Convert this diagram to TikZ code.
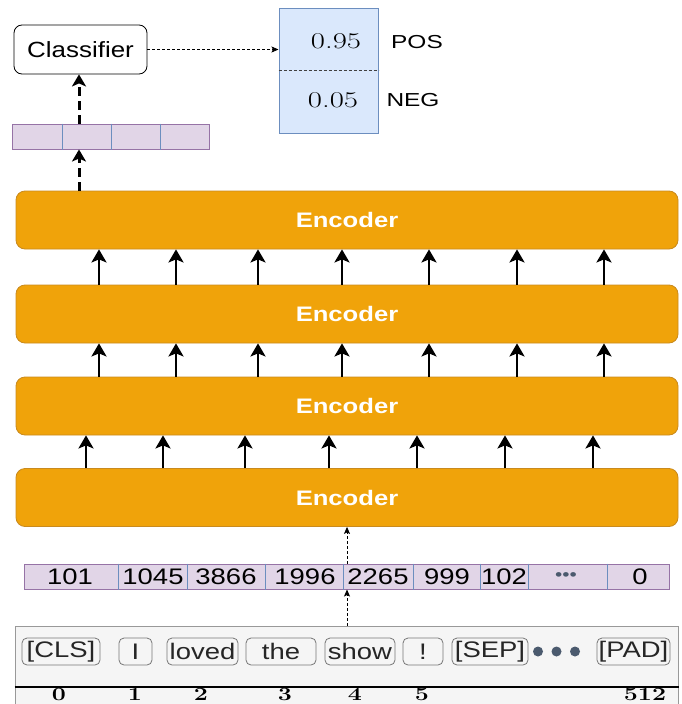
\documentclass[tikz,border=0pt]{standalone}
\usepackage{fontspec}
\usepackage{graphicx}
\usetikzlibrary{arrows.meta}
\newfontfamily\sans{Liberation Sans}
\definecolor{encfill}{HTML}{F0A30A}
\definecolor{encline}{HTML}{C98A1E}
\definecolor{vecfill}{HTML}{E1D5E7}
\definecolor{vecline}{HTML}{9673A6}
\definecolor{cellline}{HTML}{6C8EBF}
\definecolor{probfill}{HTML}{DAE8FC}
\definecolor{probline}{HTML}{6C8EBF}
\definecolor{tokfill}{HTML}{F5F5F5}
\definecolor{tokline}{HTML}{777777}
\definecolor{boxline}{HTML}{999999}
\definecolor{dotcol}{HTML}{4B5A6E}
% horizontally widened text: \hs[factor]{text}
\newcommand\hs[2][1.22]{\scalebox{#1}[1]{#2}}
\newcommand\fsz[1]{\fontsize{#1}{#1}\selectfont}
\tikzset{
  enc/.style={rectangle, rounded corners=9pt, draw=encline, fill=encfill, line width=0.8pt,
    minimum width=662pt, minimum height=58pt, inner sep=0pt, text=white, font=\sans\fsz{21}\bfseries},
  vec/.style={rectangle, draw=vecline, fill=vecfill, line width=1pt, inner sep=0pt},
  cell/.style={draw=cellline, line width=1pt},
  vnum/.style={inner sep=0pt, font=\sans\fsz{22.5}},
  prob/.style={rectangle, draw=probline, fill=probfill, line width=1pt, inner sep=0pt,
    minimum width=99pt, minimum height=125pt},
  probnum/.style={inner sep=0pt, font=\rmfamily\fsz{22.5}},
  label/.style={inner sep=0pt, font=\sans\fsz{18.8}},
  clsbox/.style={rectangle, rounded corners=8pt, draw=black, fill=white, line width=0.8pt,
    minimum width=133pt, minimum height=49pt, inner sep=0pt, font=\sans\fsz{22}},
  tokrow/.style={rectangle, draw=boxline, fill=tokfill, line width=1pt, inner sep=0pt,
    minimum width=663pt, minimum height=96pt},
  tok/.style={rectangle, rounded corners=5pt, draw=tokline, fill=tokfill, line width=0.8pt,
    minimum height=27pt, inner sep=0pt, text=black!85, font=\sans\fsz{22.5}},
  idx/.style={inner sep=0pt, anchor=north, font=\rmfamily\bfseries\fsz{18.5}},
  uparrow/.style={line width=2.7pt, -{Stealth[length=13pt,width=15pt,inset=3pt]}},
  thickdash/.style={line width=3pt, dash pattern=on 9pt off 5pt, -{Stealth[length=12pt,width=14pt,inset=3pt]}},
  thindash/.style={line width=0.8pt, dash pattern=on 3pt off 2pt, -{Stealth[length=7pt,width=6pt,inset=1.5pt]}},
}
\begin{document}
\begin{tikzpicture}[x=1pt,y=-1pt]
\useasboundingbox (0,0) rectangle (681,704);

% classifier and output probabilities
\node[clsbox] (cls) at (80.5,49.5) {\hs[1.18]{Classifier}};
\node[prob] (pb) at (328.5,70.5) {};
\draw[dash pattern=on 3pt off 2pt, line width=0.8pt, black!75] (pb.west |- 0,70) -- (pb.east |- 0,70);
\node[probnum] (p1) at (336,41) {\hs[1.37]{0.95}};
\node[probnum] (p2) at (333,100) {\hs[1.37]{0.05}};
\node[label] (pos) at (417,42) {\hs[1.3]{POS}};
\node[label] (neg) at (413,100) {\hs[1.3]{NEG}};
\draw[thindash] (cls.east) -- (cls.east -| pb.west);

% pooled output vector
\node[vec, minimum width=197pt, minimum height=25pt] (sv) at (110.5,136.5) {};
\foreach \x in {62,111,160} \draw[cell] (\x,0 |- sv.north) -- (\x,0 |- sv.south);

% encoder stack
\node[enc] (e1) at (347,220) {\hs{Encoder}};
\node[enc] (e2) at (347,314) {\hs{Encoder}};
\node[enc] (e3) at (347,406) {\hs{Encoder}};
\node[enc] (e4) at (347,497.5) {\hs{Encoder}};

\foreach \x in {99,176,258,342,429,517,604} {
  \draw[uparrow] (\x,0 |- e2.north) -- (\x,0 |- e1.south);
  \draw[uparrow] (\x,0 |- e3.north) -- (\x,0 |- e2.south);
}
\foreach \x in {86,163,245,329,417,505,593}
  \draw[uparrow] (\x,0 |- e4.north) -- (\x,0 |- e3.south);

\draw[thickdash] (79,0 |- e1.north) -- (79,0 |- sv.south);
\draw[thickdash] (79,0 |- sv.north) -- (79,0 |- cls.south);

% token ids
\node[vec, minimum width=645pt, minimum height=25pt] (ids) at (346.5,576.5) {};
\foreach \x in {118,187,265,343,413,480,528,607} \draw[cell] (\x,0 |- ids.north) -- (\x,0 |- ids.south);
\node[vnum] (i0) at (70,577) {\hs{101}};
\node[vnum] (i1) at (153,577) {\hs{1045}};
\node[vnum] (i2) at (226,577) {\hs{3866}};
\node[vnum] (i3) at (305,577) {\hs{1996}};
\node[vnum] (i4) at (378,577) {\hs{2265}};
\node[vnum] (i5) at (447,577) {\hs{999}};
\node[vnum] (i6) at (504,577) {\hs{102}};
\node[inner sep=0pt, text=dotcol, font=\sans\fsz{17}] (i7) at (566,577) {\hs{•••}};
\node[vnum] (i8) at (640,577) {\hs{0}};

% tokens
\node[tokrow] (row) at (346.5,674) {};
\draw[line width=1.2pt] (row.west |- 0,687) -- (row.east |- 0,687);
\node[tok, minimum width=78pt] (t0) at (61,651.5) {\hs{[CLS]}};
\node[tok, minimum width=33pt] (t1) at (135.5,651.5) {\hs{I}};
\node[tok, minimum width=71pt] (t2) at (202.5,651.5) {\hs{loved}};
\node[tok, minimum width=70pt] (t3) at (281,651.5) {\hs{the}};
\node[tok, minimum width=70pt] (t4) at (360,651.5) {\hs{show}};
\node[tok, minimum width=40pt] (t5) at (423,651.5) {\hs{!}};
\node[tok, minimum width=76pt] (t6) at (490,651.5) {\hs{[SEP]}};
\node[tok, minimum width=73pt] (t7) at (633.5,651.5) {\hs{[PAD]}};
\foreach \x in {538,556.5,575} \fill[dotcol] (\x,651.5) circle (5pt);

% positions
\node[idx] (n0) at (59,688) {\hs[1.35]{0}};
\node[idx] (n1) at (135,688) {\hs[1.35]{1}};
\node[idx] (n2) at (201,688) {\hs[1.35]{2}};
\node[idx] (n3) at (285,688) {\hs[1.35]{3}};
\node[idx] (n4) at (355,688) {\hs[1.35]{4}};
\node[idx] (n5) at (422,688) {\hs[1.35]{5}};
\node[idx] (n6) at (645,688) {\hs[1.35]{512}};

\draw[thindash] (347,0 |- row.north) -- (347,0 |- ids.south);
\draw[thindash] (347,0 |- ids.north) -- (347,0 |- e4.south);
\end{tikzpicture}
\end{document}
